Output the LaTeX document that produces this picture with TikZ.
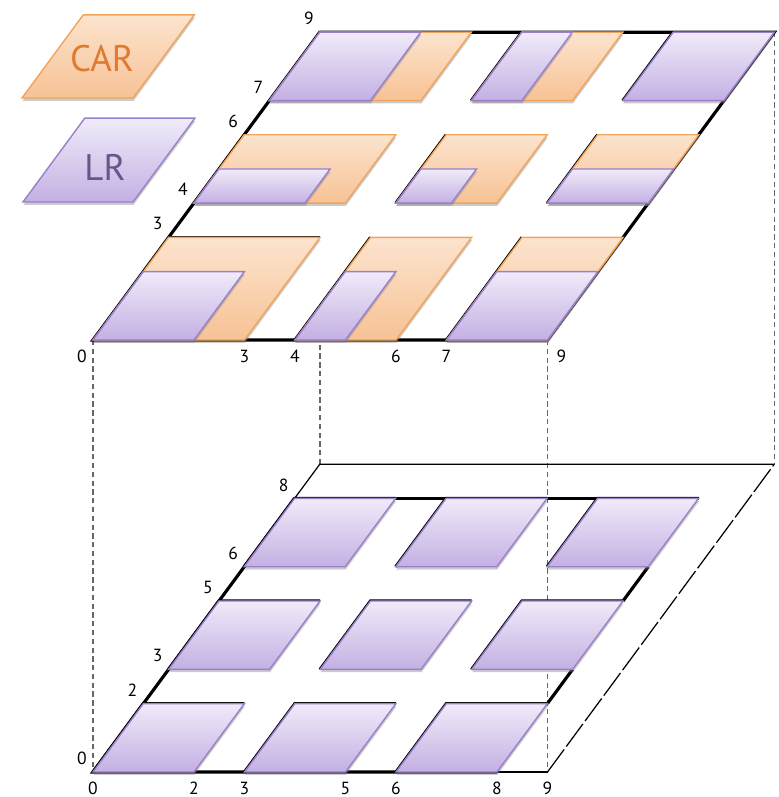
\documentclass[tikz,border=0pt]{standalone}
\usepackage{fontspec}
\setsansfont{PT Sans}
\usetikzlibrary{shadows}
\definecolor{lrtop}{HTML}{F0EBF9}
\definecolor{lrbot}{HTML}{C3B0E3}
\definecolor{lrline}{HTML}{9A7FC9}
\definecolor{lrtext}{HTML}{66578A}
\definecolor{cartop}{HTML}{FCE4CE}
\definecolor{carbot}{HTML}{F7C295}
\definecolor{carline}{HTML}{F2A45A}
\definecolor{cartext}{HTML}{E07A30}
\begin{document}
\begin{tikzpicture}[x={(1.01cm,0cm)}, y={(0.504cm,0.684cm)},
    lr/.style={draw=lrline, line width=0.8pt, top color=lrtop, bottom color=lrbot,
      drop shadow={opacity=0.4, shadow xshift=0.3pt, shadow yshift=-1.6pt}},
    car/.style={draw=carline, line width=0.8pt, top color=cartop, bottom color=carbot,
      drop shadow={opacity=0.4, shadow xshift=0.3pt, shadow yshift=-1.6pt}},
    wire/.style={black, line width=1.8pt},
    frame/.style={black, line width=0.7pt},
    guide/.style={gray!80!black, line width=0.9pt, dash pattern=on 3pt off 2pt},
    num/.style={font=\sffamily\fontsize{10}{12}\selectfont, inner sep=0pt},
    ylab/.style={xshift=-0.22cm, yshift=0.27cm},
    xlab/.style={yshift=-0.33cm}]
    \useasboundingbox (-1.86cm,-0.5cm) rectangle (13.70cm,15.44cm);
    % Coordinate
    \coordinate (B0) at (0,0);
    \coordinate (B9) at (9,0);
    \coordinate (B09) at (0,9);
    \coordinate (B99) at (9,9);
    \begin{scope}[yshift=8.64cm]
        \coordinate (T0) at (0,0);
        \coordinate (T9) at (9,0);
        \coordinate (T99) at (9,9);
    \end{scope}
    % Guide lines between the planes
    \draw[guide] (T0) -- (B0);
    \draw[guide] (T9) -- (B9);
    \draw[guide] (T99) -- (B99);
    \draw[guide] (B09) -- (B09 |- T0);
    % Lower plane
    \draw[frame] (8,0) -- (B9);
    \draw[frame, dash pattern=on 16pt off 2pt] (B9) -- (B99);
    \draw[frame] (B99) -- (B09) -- (0,8);
    \draw[wire] (0,8) -- (0,0) -- (8,0);
    \draw[wire] (0,8) -- (8,8);
    \draw[wire] (8,2) -- (8,3) (8,5) -- (8,6);
    \foreach \x in {0,3,6}
        \foreach \y in {0,3,6} {
            \draw[wire] (\x,\y) -- (\x,\y+2) -- (\x+2,\y+2);
            \path[lr] (\x,\y) -- ++(2,0) -- ++(0,2) -- ++(-2,0) -- cycle;
        }
    \foreach \y in {0,2,3,5,6,8}
        \node[num, ylab] (by\y) at (0,\y) {\y};
    \foreach \x in {0,2,3,5,6,8,9}
        \node[num, xlab] (bx\x) at (\x,0) {\x};
    % Upper plane
    \begin{scope}[yshift=8.64cm]
        \draw[wire] (0,0) -- (9,0) -- (9,9) -- (0,9) -- cycle;
        \draw[wire] (0,3) -- (3,3);
        \foreach \x in {4,7}
            \foreach \y/\h in {0/3,4/2,7/2}
                \draw[wire] (\x,\y) -- ++(0,\h);
        % CAR blocks
        \foreach \x/\y/\w/\h in {0/0/3/3, 4/0/2/3, 7/0/2/3, 0/4/3/2, 4/4/2/2, 7/4/2/2, 0/7/3/2, 4/7/2/2}
            \path[car] (\x,\y) -- ++(\w,0) -- ++(0,\h) -- ++(-\w,0) -- cycle;
        % LR blocks
        \foreach \x/\y/\w/\h in {0/0/2/2, 4/0/1/2, 7/0/2/2, 0/4/2.2/1, 4/4/1.1/1, 7/4/2/1, 0/7/2/2, 4/7/1/2, 7/7/2/2}
            \path[lr] (\x,\y) -- ++(\w,0) -- ++(0,\h) -- ++(-\w,0) -- cycle;
        \foreach \y in {3,4,6,7,9}
            \node[num, ylab] (ty\y) at (0,\y) {\y};
        \foreach \x in {3,4,6,7}
            \node[num, xlab] (tx\x) at (\x,0) {\x};
        \node[num, xlab, xshift=-0.22cm] (tx0) at (0,0) {0};
        \node[num, xlab, xshift=0.28cm] (tx9) at (9,0) {9};
    \end{scope}
    % Legend
    \coordinate (carpos) at (-1.42cm,13.48cm);
    \coordinate (lrpos) at (-1.40cm,11.40cm);
    \path[car] (carpos) -- ++(2.2,0) -- ++(0,2.43) -- ++(-2.2,0) -- cycle;
    \path[lr] (lrpos) -- ++(2.18,0) -- ++(0,2.45) -- ++(-2.18,0) -- cycle;
    \node[font=\sffamily\fontsize{21}{24}\selectfont, text=cartext] (cartxt) at (0.18cm,14.26cm) {CAR};
    \node[font=\sffamily\fontsize{21}{24}\selectfont, text=lrtext] (lrtxt) at (0.24cm,12.10cm) {LR};
\end{tikzpicture}
\end{document}
